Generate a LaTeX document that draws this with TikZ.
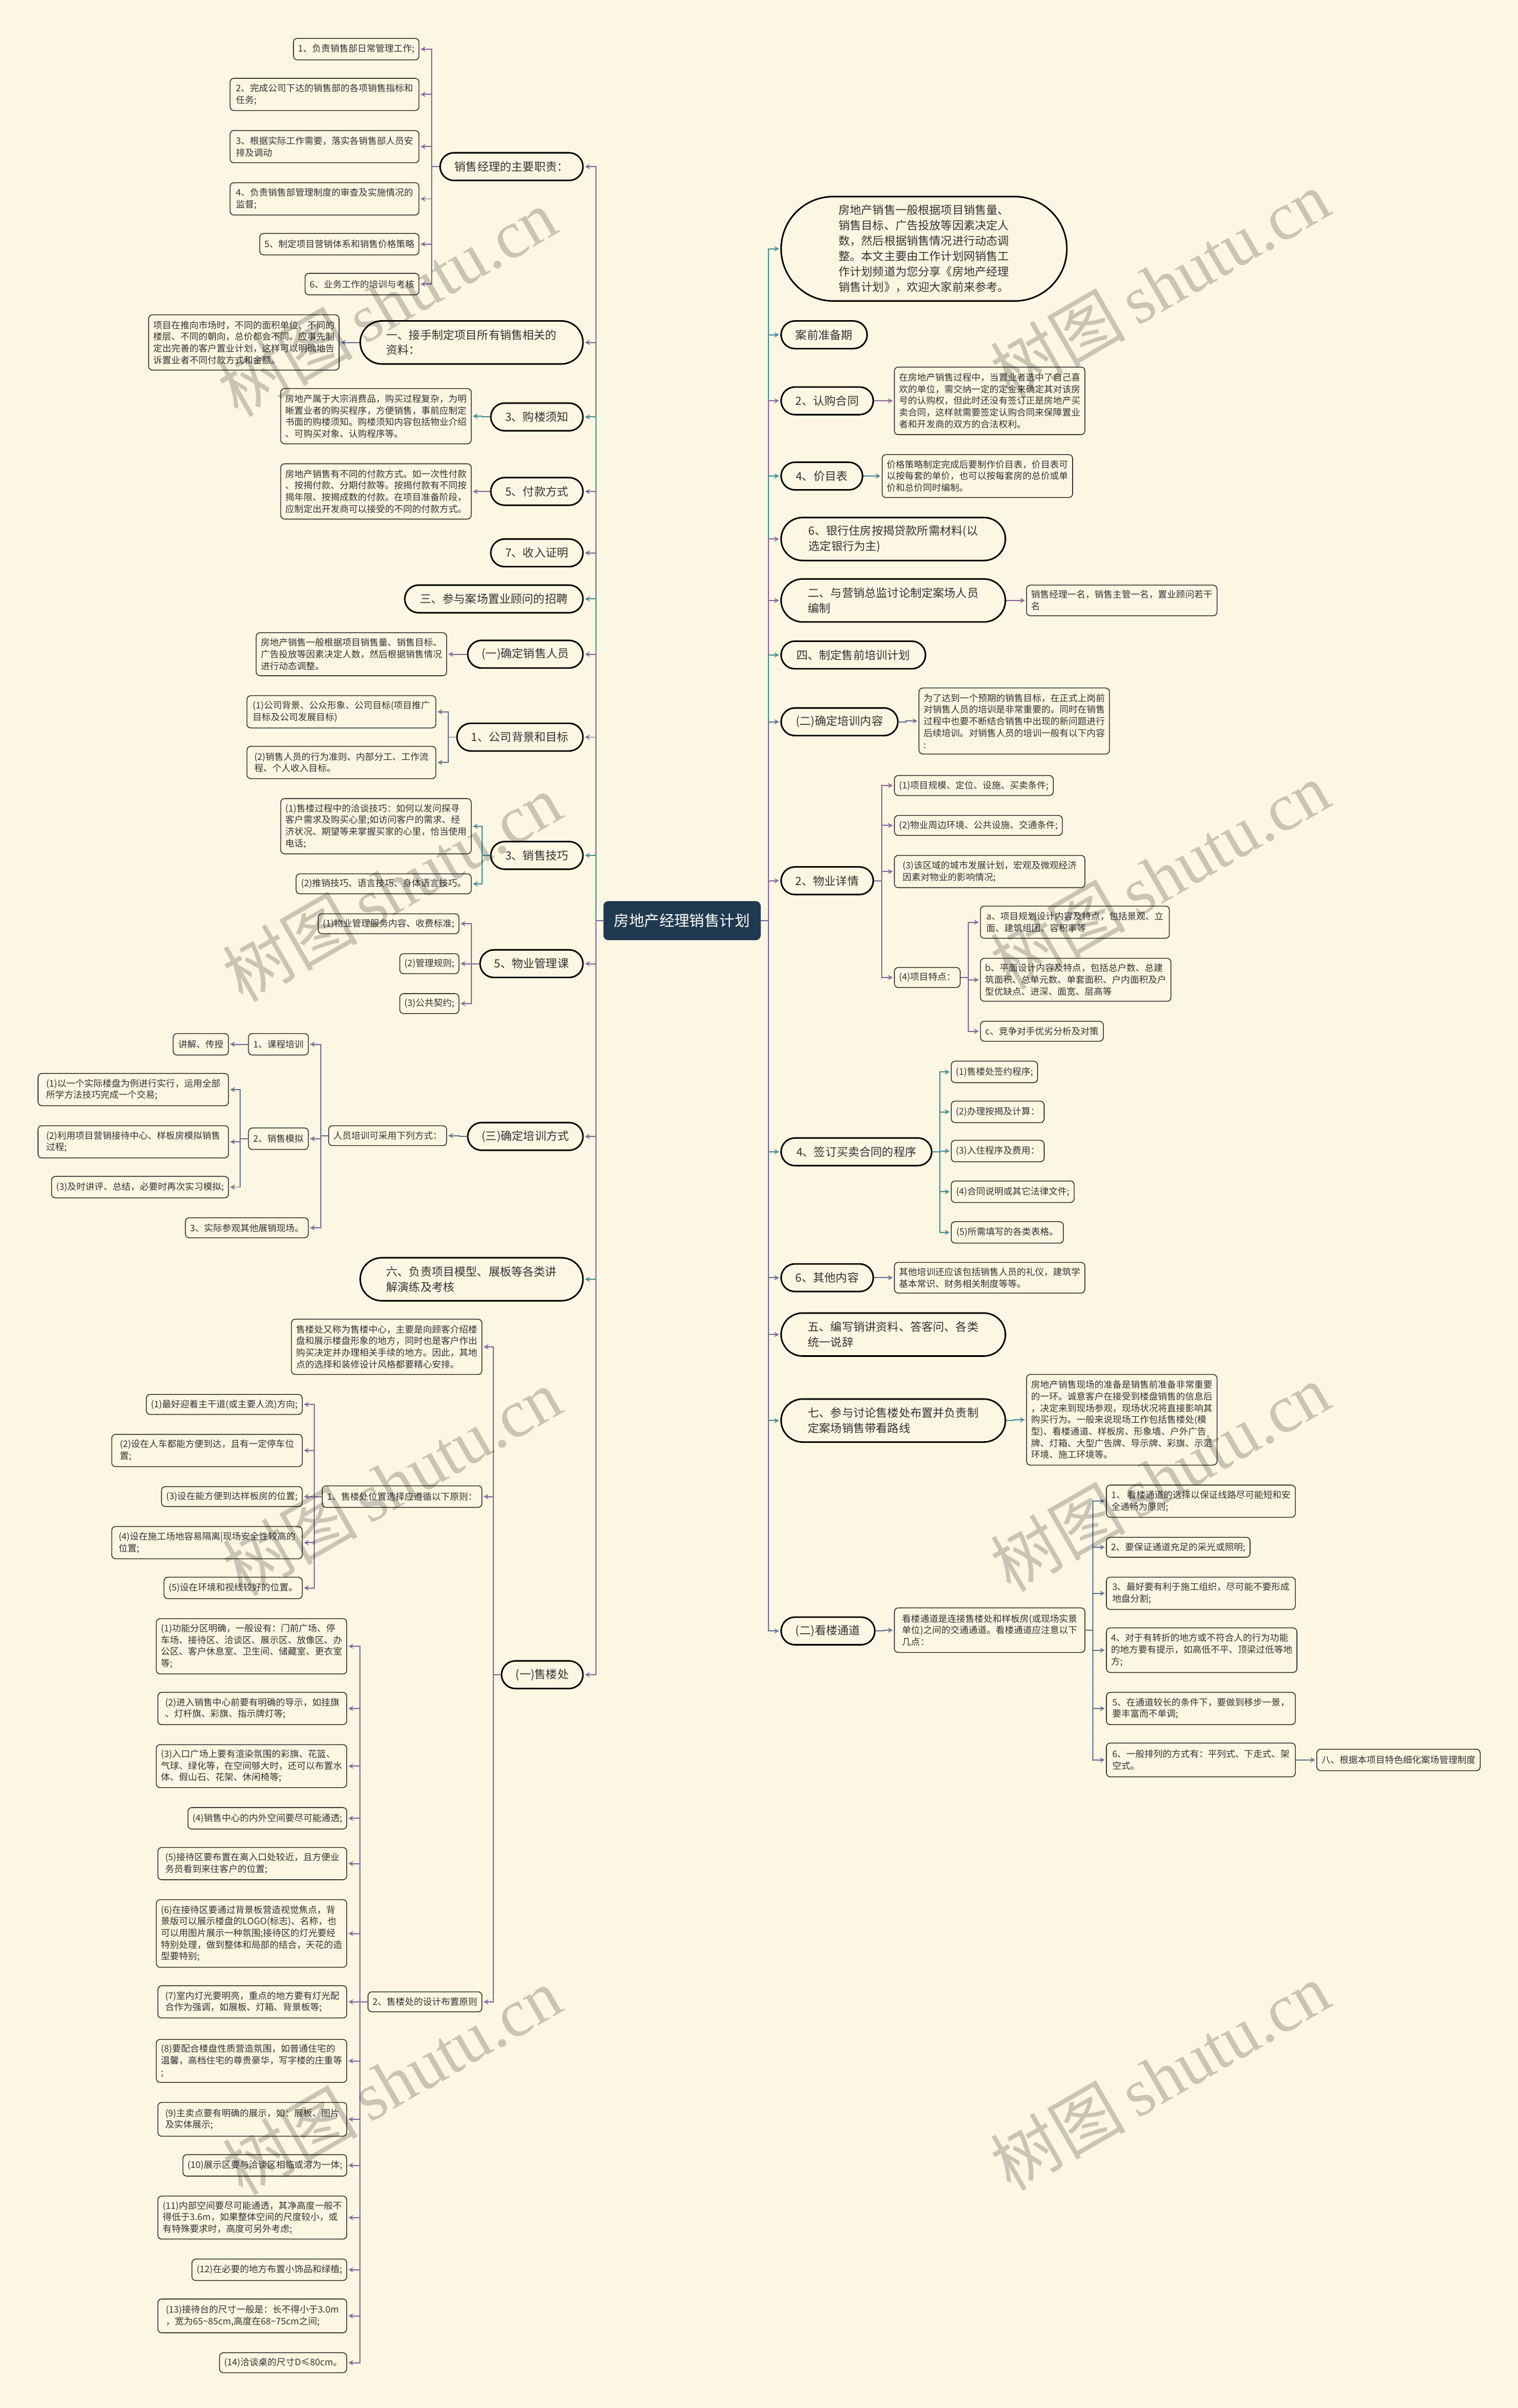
\documentclass[tikz,border=0pt]{standalone}
\usepackage{fontspec}
\setmainfont{Noto Sans CJK SC}
\newfontfamily\wmserif{Liberation Serif}
\usetikzlibrary{arrows.meta}
\definecolor{bg}{HTML}{FBF7E3}
\definecolor{cP}{HTML}{8F6E9F}
\definecolor{cT}{HTML}{4E9498}
\definecolor{cS}{HTML}{6E7A98}
\definecolor{rootc}{HTML}{1F3A50}
\definecolor{txt}{HTML}{333333}
\newcommand{\fsmall}{\fontsize{5.9pt}{7.6pt}\selectfont}
\newcommand{\fmid}{\fontsize{7.4pt}{10pt}\selectfont}
\newcommand{\froot}{\fontsize{9.8pt}{12pt}\selectfont}
\newcommand{\lkL}[3]{\draw[lk=#1] (#2.west) -- ++(-5,0) |- (#3.east);}
\newcommand{\lkR}[3]{\draw[lk=#1] (#2.east) -- ++(5,0) |- (#3.west);}
\tikzset{
  sb/.style={draw=black!85, line width=0.5pt, fill=bg, rounded corners=2.5pt, inner xsep=3pt, inner ysep=1pt, align=left, font=\fsmall, text=txt},
  pill/.style={draw=black, line width=1pt, fill=bg, inner xsep=3pt, inner ysep=1pt, align=left, font=\fmid, text=txt},
  pa/.style={pill, minimum height=18, rounded corners=9},
  pb/.style={pill, minimum height=28, rounded corners=14},
  lk/.style={draw=#1, line width=0.75pt, -{Stealth[length=3.2pt,width=3.4pt]}, shorten >=0.8pt},
  wm/.style={rotate=30, text=black, opacity=0.2, font=\fontsize{44pt}{44pt}\selectfont}
}
\begin{document}
\begin{tikzpicture}[x=1pt,y=-1pt]
\fill[bg] (0,0) rectangle (988,1568);
\useasboundingbox (0,0) rectangle (988,1568);

% root
\node[fill=rootc, draw=rootc, rounded corners=3pt, text=white, font=\froot, minimum width=102, minimum height=25] (root) at (444,599.5) {房地产经理销售计划};

% ---------- left side ----------
\node[pa, anchor=east, minimum width=93] (A) at (380,108.5) {销售经理的主要职责：};
\node[sb, anchor=east, minimum width=81, minimum height=14] (A1) at (273,32) {1、负责销售部日常管理工作;};
\node[sb, anchor=east, minimum width=123, minimum height=21] (A2) at (273,61.5) {2、完成公司下达的销售部的各项销售指标和\\任务;};
\node[sb, anchor=east, minimum width=123, minimum height=21] (A3) at (273,95.5) {3、根据实际工作需要，落实各销售部人员安\\排及调动};
\node[sb, anchor=east, minimum width=123, minimum height=21] (A4) at (273,129.5) {4、负责销售部管理制度的审查及实施情况的\\监督;};
\node[sb, anchor=east, minimum width=103, minimum height=14] (A5) at (273,159) {5、制定项目营销体系和销售价格策略};
\node[sb, anchor=east, minimum width=73, minimum height=14] (A6) at (273,185) {6、业务工作的培训与考核};

\node[pb, anchor=east, minimum width=145] (B) at (380,223) {一、接手制定项目所有销售相关的\\资料：};
\node[sb, anchor=east, minimum width=123, minimum height=36] (B1) at (221,223) {项目在推向市场时，不同的面积单位、不同的\\楼层、不同的朝向，总价都会不同。应事先制\\定出完善的客户置业计划，这样可以明确地告\\诉置业者不同付款方式和金额。};

\node[pa, anchor=east, minimum width=60] (C) at (380,271.5) {3、购楼须知};
\node[sb, anchor=east, minimum width=124, minimum height=36] (C1) at (307,271) {房地产属于大宗消费品，购买过程复杂，为明\\晰置业者的购买程序，方便销售，事前应制定\\书面的购楼须知。购楼须知内容包括物业介绍\\、可购买对象、认购程序等。};

\node[pa, anchor=east, minimum width=60] (D) at (380,320) {5、付款方式};
\node[sb, anchor=east, minimum width=124, minimum height=36] (D1) at (307,320) {房地产销售有不同的付款方式。如一次性付款\\、按揭付款、分期付款等。按揭付款有不同按\\揭年限、按揭成数的付款。在项目准备阶段，\\应制定出开发商可以接受的不同的付款方式。};

\node[pa, anchor=east, minimum width=60] (E) at (380,360) {7、收入证明};
\node[pa, anchor=east, minimum width=116] (F) at (380,390) {三、参与案场置业顾问的招聘};

\node[pa, anchor=east, minimum width=75] (G) at (380,426) {(一)确定销售人员};
\node[sb, anchor=east, minimum width=123, minimum height=28] (G1) at (291,426) {房地产销售一般根据项目销售量、销售目标、\\广告投放等因素决定人数，然后根据销售情况\\进行动态调整。};

\node[pa, anchor=east, minimum width=82] (H) at (380,480) {1、公司背景和目标};
\node[sb, anchor=east, minimum width=123, minimum height=21] (H1) at (284,463.5) {(1)公司背景、公众形象、公司目标(项目推广\\目标及公司发展目标)};
\node[sb, anchor=east, minimum width=123, minimum height=21] (H2) at (284,496.5) {(2)销售人员的行为准则、内部分工、工作流\\程、个人收入目标。};

\node[pa, anchor=east, minimum width=60] (I) at (380,557) {3、销售技巧};
\node[sb, anchor=east, minimum width=124, minimum height=36] (I1) at (307,538) {(1)售楼过程中的洽谈技巧：如何以发问探寻\\客户需求及购买心里;如访问客户的需求、经\\济状况、期望等来掌握买家的心里，恰当使用\\电话;};
\node[sb, anchor=east, minimum width=114, minimum height=13] (I2) at (307,575.5) {(2)推销技巧、语言技巧、身体语言技巧。};

\node[pa, anchor=east, minimum width=67] (J) at (380,627.5) {5、物业管理课};
\node[sb, anchor=east, minimum width=91, minimum height=13] (J1) at (299,601.5) {(1)物业管理服务内容、收费标准;};
\node[sb, anchor=east, minimum width=38, minimum height=13] (J2) at (299,627.5) {(2)管理规则;};
\node[sb, anchor=east, minimum width=38, minimum height=13] (J3) at (299,653.5) {(3)公共契约;};

\node[pa, anchor=east, minimum width=75] (K) at (380,740) {(三)确定培训方式};
\node[sb, anchor=east, minimum width=76, minimum height=13] (K1) at (291,739.5) {人员培训可采用下列方式：};
\node[sb, anchor=east, minimum width=39, minimum height=14] (K11) at (201,680) {1、课程培训};
\node[sb, anchor=east, minimum width=36, minimum height=14] (K111) at (149,680) {讲解、传授};
\node[sb, anchor=east, minimum width=39, minimum height=14] (K12) at (201,741.5) {2、销售模拟};
\node[sb, anchor=east, minimum width=124, minimum height=21] (K121) at (149,709.5) {(1)以一个实际楼盘为例进行实行，运用全部\\所学方法技巧完成一个交易;};
\node[sb, anchor=east, minimum width=124, minimum height=21] (K122) at (149,743.5) {(2)利用项目营销接待中心、样板房模拟销售\\过程;};
\node[sb, anchor=east, minimum width=115, minimum height=14] (K123) at (149,773) {(3)及时讲评、总结，必要时再次实习模拟;};
\node[sb, anchor=east, minimum width=80, minimum height=13] (K13) at (201,799.5) {3、实际参观其他展销现场。};

\node[pb, anchor=east, minimum width=145] (L) at (380,833) {六、负责项目模型、展板等各类讲\\解演练及考核};

\node[pa, anchor=east, minimum width=53] (M) at (380,1090.5) {(一)售楼处};
\node[sb, anchor=east, minimum width=124, minimum height=36] (M1) at (314,877) {售楼处又称为售楼中心，主要是向顾客介绍楼\\盘和展示楼盘形象的地方，同时也是客户作出\\购买决定并办理相关手续的地方。因此，其地\\点的选择和装修设计风格都要精心安排。};
\node[sb, anchor=east, minimum width=104, minimum height=14] (M2) at (314,974.5) {1、售楼处位置选择应遵循以下原则：};
\node[sb, anchor=east, minimum width=101, minimum height=13] (M21) at (197,914.5) {(1)最好迎着主干道(或主要人流)方向;};
\node[sb, anchor=east, minimum width=124, minimum height=21] (M22) at (197,944.5) {(2)设在人车都能方便到达，且有一定停车位\\置;};
\node[sb, anchor=east, minimum width=91, minimum height=13] (M23) at (197,974.5) {(3)设在能方便到达样板房的位置;};
\node[sb, anchor=east, minimum width=124, minimum height=21] (M24) at (197,1004.5) {(4)设在施工场地容易隔离|现场安全性较高的\\位置;};
\node[sb, anchor=east, minimum width=90, minimum height=14] (M25) at (197,1034) {(5)设在环境和视线较好的位置。};
\node[sb, anchor=east, minimum width=74, minimum height=13] (M3) at (314,1303.5) {2、售楼处的设计布置原则};
\node[sb, anchor=east, minimum width=123, minimum height=36] (M31) at (226,1072) {(1)功能分区明确，一般设有：门前广场、停\\车场、接待区、洽谈区、展示区、放像区、办\\公区、客户休息室、卫生间、储藏室、更衣室\\等;};
\node[sb, anchor=east, minimum width=123, minimum height=21] (M32) at (226,1112.5) {(2)进入销售中心前要有明确的导示，如挂旗\\、灯杆旗、彩旗、指示牌灯等;};
\node[sb, anchor=east, minimum width=123, minimum height=28] (M33) at (226,1150) {(3)入口广场上要有渲染氛围的彩旗、花篮、\\气球、绿化等，在空间够大时，还可以布置水\\体、假山石、花架、休闲椅等;};
\node[sb, anchor=east, minimum width=103, minimum height=14] (M34) at (226,1184) {(4)销售中心的内外空间要尽可能通透;};
\node[sb, anchor=east, minimum width=123, minimum height=21] (M35) at (226,1213.5) {(5)接待区要布置在离入口处较近，且方便业\\务员看到来往客户的位置;};
\node[sb, anchor=east, minimum width=123, minimum height=44] (M36) at (226,1259) {(6)在接待区要通过背景板营造视觉焦点，背\\景版可以展示楼盘的LOGO(标志)、名称，也\\可以用图片展示一种氛围;接待区的灯光要经\\特别处理，做到整体和局部的结合，天花的造\\型要特别;};
\node[sb, anchor=east, minimum width=123, minimum height=21] (M37) at (226,1303.5) {(7)室内灯光要明亮，重点的地方要有灯光配\\合作为强调，如展板、灯箱、背景板等;};
\node[sb, anchor=east, minimum width=123, minimum height=28] (M38) at (226,1342) {(8)要配合楼盘性质营造氛围，如普通住宅的\\温馨，高档住宅的尊贵豪华，写字楼的庄重等\\;};
\node[sb, anchor=east, minimum width=123, minimum height=22] (M39) at (226,1380) {(9)主卖点要有明确的展示，如：展板、图片\\及实体展示;};
\node[sb, anchor=east, minimum width=106, minimum height=14] (M3a) at (226,1410) {(10)展示区要与洽谈区相临或溶为一体;};
\node[sb, anchor=east, minimum width=123, minimum height=28] (M3b) at (226,1444) {(11)内部空间要尽可能通透，其净高度一般不\\得低于3.6m，如果整体空间的尺度较小，或\\有特殊要求时，高度可另外考虑;};
\node[sb, anchor=east, minimum width=100, minimum height=14] (M3c) at (226,1478) {(12)在必要的地方布置小饰品和绿植;};
\node[sb, anchor=east, minimum width=123, minimum height=22] (M3d) at (226,1508) {(13)接待台的尺寸一般是：长不得小于3.0m\\，宽为65\textasciitilde85cm,高度在68\textasciitilde75cm之间;};
\node[sb, anchor=east, minimum width=82, minimum height=13] (M3e) at (226,1538.5) {(14)洽谈桌的尺寸D≤80cm。};

% ---------- right side ----------
\node[pill, anchor=west, minimum width=186, minimum height=68, rounded corners=34] (N) at (508,162) {房地产销售一般根据项目销售量、\\销售目标、广告投放等因素决定人\\数，然后根据销售情况进行动态调\\整。本文主要由工作计划网销售工\\作计划频道为您分享《房地产经理\\销售计划》，欢迎大家前来参考。};
\node[pa, anchor=west, minimum width=56] (O) at (508,218) {案前准备期};
\node[pa, anchor=west, minimum width=60] (P) at (508,261) {2、认购合同};
\node[sb, anchor=west, minimum width=124, minimum height=44] (P1) at (582,261) {在房地产销售过程中，当置业者选中了自己喜\\欢的单位，需交纳一定的定金来确定其对该房\\号的认购权，但此时还没有签订正是房地产买\\卖合同，这样就需要签定认购合同来保障置业\\者和开发商的双方的合法权利。};
\node[pa, anchor=west, minimum width=53] (Q) at (508,310) {4、价目表};
\node[sb, anchor=west, minimum width=124, minimum height=28] (Q1) at (574,310) {价格策略制定完成后要制作价目表，价目表可\\以按每套的单价，也可以按每套房的总价或单\\价和总价同时编制。};
\node[pb, anchor=west, minimum width=146] (R) at (508,351) {6、银行住房按揭贷款所需材料(以\\选定银行为主)};
\node[pb, anchor=west, minimum width=146] (S) at (508,391) {二、与营销总监讨论制定案场人员\\编制};
\node[sb, anchor=west, minimum width=123, minimum height=20] (S1) at (668,391) {销售经理一名，销售主管一名，置业顾问若干\\名};
\node[pa, anchor=west, minimum width=94] (T) at (508,426.5) {四、制定售前培训计划};
\node[pa, anchor=west, minimum width=76] (U) at (508,470) {(二)确定培训内容};
\node[sb, anchor=west, minimum width=123, minimum height=43] (U1) at (598,469.5) {为了达到一个预期的销售目标，在正式上岗前\\对销售人员的培训是非常重要的。同时在销售\\过程中也要不断结合销售中出现的新问题进行\\后续培训。对销售人员的培训一般有以下内容\\:};
\node[pa, anchor=west, minimum width=60] (V) at (508,573.5) {2、物业详情};
\node[sb, anchor=west, minimum width=103, minimum height=13] (V1) at (582,511.5) {(1)项目规模、定位、设施、买卖条件;};
\node[sb, anchor=west, minimum width=109, minimum height=13] (V2) at (582,537.5) {(2)物业周边环境、公共设施、交通条件;};
\node[sb, anchor=west, minimum width=124, minimum height=21] (V3) at (582,567.5) {(3)该区域的城市发展计划，宏观及微观经济\\因素对物业的影响情况;};
\node[sb, anchor=west, minimum width=42, minimum height=13] (V4) at (582,636.5) {(4)项目特点：};
\node[sb, anchor=west, minimum width=123, minimum height=21] (V41) at (638,600.5) {a、项目规划设计内容及特点，包括景观、立\\面、建筑组团、容积率等};
\node[sb, anchor=west, minimum width=123, minimum height=28] (V42) at (638,638) {b、平面设计内容及特点，包括总户数、总建\\筑面积、总单元数、单套面积、户内面积及户\\型优缺点、进深、面宽、层高等};
\node[sb, anchor=west, minimum width=80, minimum height=13] (V43) at (638,671.5) {c、竞争对手优劣分析及对策};
\node[pa, anchor=west, minimum width=98] (W) at (508,750) {4、签订买卖合同的程序};
\node[sb, anchor=west, minimum width=56, minimum height=14] (W1) at (619,698) {(1)售楼处签约程序;};
\node[sb, anchor=west, minimum width=60, minimum height=14] (W2) at (619,724) {(2)办理按揭及计算：};
\node[sb, anchor=west, minimum width=60, minimum height=14] (W3) at (619,749.5) {(3)入住程序及费用：};
\node[sb, anchor=west, minimum width=80, minimum height=14] (W4) at (619,776) {(4)合同说明或其它法律文件;};
\node[sb, anchor=west, minimum width=73, minimum height=14] (W5) at (619,802.5) {(5)所需填写的各类表格。};
\node[pa, anchor=west, minimum width=60] (X) at (508,832) {6、其他内容};
\node[sb, anchor=west, minimum width=124, minimum height=20] (X1) at (582,832) {其他培训还应该包括销售人员的礼仪，建筑学\\基本常识、财务相关制度等等。};
\node[pb, anchor=west, minimum width=146] (Y) at (508,869) {五、编写销讲资料、答客问、各类\\统一说辞};
\node[pb, anchor=west, minimum width=146] (Z) at (508,925) {七、参与讨论售楼处布置并负责制\\定案场销售带看路线};
\node[sb, anchor=west, minimum width=123, minimum height=59] (Z1) at (668,924.5) {房地产销售现场的准备是销售前准备非常重要\\的一环。诚意客户在接受到楼盘销售的信息后\\，决定来到现场参观，现场状况将直接影响其\\购买行为。一般来说现场工作包括售楼处(模\\型)、看楼通道、样板房、形象墙、户外广告\\牌、灯箱、大型广告牌、导示牌、彩旗、示范\\环境、施工环境等。};
\node[pa, anchor=west, minimum width=61] (AA) at (508,1062) {(二)看楼通道};
\node[sb, anchor=west, minimum width=124, minimum height=29] (AA1) at (582,1061.5) {看楼通道是连接售楼处和样板房(或现场实景\\单位)之间的交通通道。看楼通道应注意以下\\几点：};
\node[sb, anchor=west, minimum width=123, minimum height=21] (AA11) at (720,977.5) {1、 看楼通道的选择以保证线路尽可能短和安\\全通畅为原则;};
\node[sb, anchor=west, minimum width=93, minimum height=13] (AA12) at (720,1007.5) {2、要保证通道充足的采光或照明;};
\node[sb, anchor=west, minimum width=123, minimum height=21] (AA13) at (720,1037.5) {3、最好要有利于施工组织，尽可能不要形成\\地盘分割;};
\node[sb, anchor=west, minimum width=123, minimum height=29] (AA14) at (720,1074.5) {4、对于有转折的地方或不符合人的行为功能\\的地方要有提示，如高低不平、顶梁过低等地\\方;};
\node[sb, anchor=west, minimum width=123, minimum height=21] (AA15) at (720,1112.5) {5、在通道较长的条件下，要做到移步一景，\\要丰富而不单调;};
\node[sb, anchor=west, minimum width=123, minimum height=22] (AA16) at (720,1146) {6、一般排列的方式有：平列式、下走式、架\\空式。};
\node[sb, anchor=west, minimum width=106, minimum height=14] (AA161) at (857,1146) {八、根据本项目特色细化案场管理制度};

% ---------- connectors ----------
\lkL{cP}{root}{A}
\foreach \c in {A1,A2,A3,A4,A5,A6} {\lkL{cP}{A}{\c}}
\lkL{cS}{root}{B} \lkL{cS}{B}{B1}
\lkL{cT}{root}{C} \lkL{cT}{C}{C1}
\lkL{cP}{root}{D} \lkL{cP}{D}{D1}
\lkL{cS}{root}{E}
\lkL{cT}{root}{F}
\lkL{cP}{root}{G} \lkL{cP}{G}{G1}
\lkL{cS}{root}{H} \lkL{cS}{H}{H1} \lkL{cS}{H}{H2}
\lkL{cT}{root}{I} \lkL{cT}{I}{I1} \lkL{cT}{I}{I2}
\lkL{cP}{root}{J} \lkL{cP}{J}{J1} \lkL{cP}{J}{J2} \lkL{cP}{J}{J3}
\lkL{cS}{root}{K} \lkL{cS}{K}{K1}
\lkL{cS}{K1}{K11} \lkL{cS}{K1}{K12} \lkL{cS}{K1}{K13}
\lkL{cS}{K11}{K111}
\lkL{cS}{K12}{K121} \lkL{cS}{K12}{K122} \lkL{cS}{K12}{K123}
\lkL{cT}{root}{L}
\lkL{cP}{root}{M} \lkL{cP}{M}{M1} \lkL{cP}{M}{M2} \lkL{cP}{M}{M3}
\foreach \c in {M21,M22,M23,M24,M25} {\lkL{cP}{M2}{\c}}
\foreach \c in {M31,M32,M33,M34,M35,M36,M37,M38,M39,M3a,M3b,M3c,M3d,M3e} {\lkL{cP}{M3}{\c}}

\lkR{cT}{root}{N}
\lkR{cT}{root}{O}
\lkR{cP}{root}{P} \lkR{cP}{P}{P1}
\lkR{cT}{root}{Q} \lkR{cT}{Q}{Q1}
\lkR{cP}{root}{R}
\lkR{cP}{root}{S} \lkR{cP}{S}{S1}
\lkR{cT}{root}{T}
\lkR{cS}{root}{U} \lkR{cS}{U}{U1}
\lkR{cP}{root}{V}
\foreach \c in {V1,V2,V3,V4} {\lkR{cP}{V}{\c}}
\foreach \c in {V41,V42,V43} {\lkR{cP}{V4}{\c}}
\lkR{cT}{root}{W}
\foreach \c in {W1,W2,W3,W4,W5} {\lkR{cT}{W}{\c}}
\lkR{cS}{root}{X} \lkR{cS}{X}{X1}
\lkR{cP}{root}{Y}
\lkR{cT}{root}{Z} \lkR{cT}{Z}{Z1}
\lkR{cS}{root}{AA} \lkR{cS}{AA}{AA1}
\foreach \c in {AA11,AA12,AA13,AA14,AA15,AA16} {\lkR{cS}{AA1}{\c}}
\lkR{cS}{AA16}{AA161}

% ---------- watermark ----------
\foreach \p [count=\i] in {(252,197),(755,185),(255,578),(755,570),(255,965),(755,962),(255,1355),(755,1352)} {
  \node[wm] (wm\i) at \p {树图\,{\wmserif shutu.cn}};
}
\end{tikzpicture}
\end{document}
